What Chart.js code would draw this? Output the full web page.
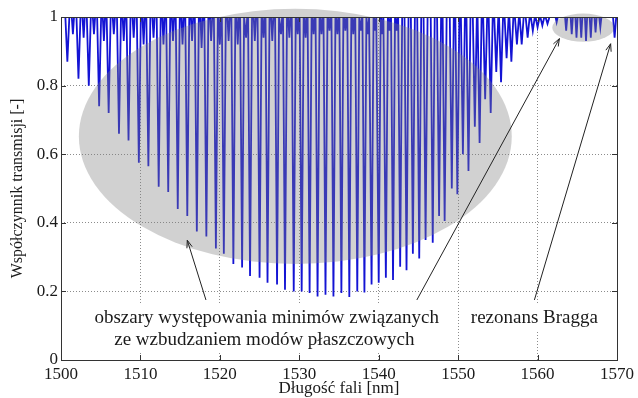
<!DOCTYPE html>
<html>
<head>
<meta charset="utf-8">
<script src="https://cdn.jsdelivr.net/npm/chart.js@4.4.0/dist/chart.umd.min.js"></script>
<style>
  body { margin: 0; background: #fff; }
  #wrap { width: 638px; height: 398px; }
</style>
</head>
<body>
<div id="wrap"><canvas id="myChart" width="638" height="398"></canvas></div>
<script>
  const xTicks = [1500, 1510, 1520, 1530, 1540, 1550, 1560, 1570];
  const yTicks = [0, 0.2, 0.4, 0.6, 0.8, 1];

  // main cladding-mode resonances (wavelength in nm, transmission minimum)
  const dipWl = [1500.8, 1502.2, 1503.5, 1504.8, 1506.0, 1507.3, 1508.5, 1509.8, 1511.0, 1512.3,
    1513.5, 1514.7, 1515.9, 1517.1, 1518.3, 1519.5, 1520.5, 1521.7, 1522.8, 1523.8,
    1525.0, 1526.0, 1527.2, 1528.2, 1529.3, 1530.3, 1531.3, 1532.3, 1533.3, 1534.3,
    1535.3, 1536.3, 1537.3, 1538.2, 1539.1, 1540.0, 1540.9, 1541.8, 1542.7, 1543.5,
    1544.3, 1545.1, 1545.9, 1546.8, 1547.6, 1548.3, 1549.2, 1549.9, 1550.6, 1551.3,
    1552.1, 1552.7, 1553.4, 1554.1, 1554.8, 1555.4, 1556.1, 1556.7, 1557.4, 1558.0,
    1558.75, 1559.4, 1560.0, 1560.6, 1561.25];
  const dipMin = [0.87, 0.82, 0.80, 0.74, 0.72, 0.66, 0.64, 0.575, 0.565, 0.505,
    0.49, 0.44, 0.42, 0.375, 0.36, 0.325, 0.31, 0.28, 0.27, 0.245,
    0.24, 0.225, 0.22, 0.205, 0.2, 0.2, 0.195, 0.185, 0.19, 0.185,
    0.195, 0.184, 0.2, 0.197, 0.22, 0.225, 0.24, 0.233, 0.272, 0.262,
    0.31, 0.296, 0.35, 0.342, 0.42, 0.405, 0.5, 0.483, 0.6, 0.551,
    0.68, 0.633, 0.76, 0.72, 0.84, 0.81, 0.88, 0.87, 0.92, 0.92,
    0.94, 0.96, 0.97, 0.975, 0.98];

  // weak resonances near the top of the spectrum
  const smallWl = [1501.5, 1502.85, 1504.15, 1505.4, 1506.65, 1507.9, 1509.15, 1510.4, 1511.65, 1512.9,
    1514.1, 1515.3, 1516.5, 1517.7, 1518.9, 1520.0, 1521.1, 1522.25, 1523.3, 1524.4,
    1525.5, 1526.6, 1527.7, 1528.75, 1529.8, 1530.8, 1531.8, 1532.8, 1533.8, 1534.8,
    1535.8, 1536.8, 1537.75, 1538.65, 1539.55, 1540.45, 1541.35, 1542.25,
    1562.4, 1563.6, 1564.3, 1564.9, 1565.5, 1566.1, 1566.7, 1567.3, 1567.9];
  const smallMin = [0.95, 0.94, 0.95, 0.93, 0.95, 0.93, 0.94, 0.92, 0.94, 0.92,
    0.93, 0.92, 0.93, 0.91, 0.93, 0.92, 0.93, 0.92, 0.94, 0.93,
    0.94, 0.93, 0.95, 0.94, 0.95, 0.94, 0.95, 0.95, 0.96, 0.95,
    0.96, 0.95, 0.96, 0.95, 0.96, 0.95, 0.96, 0.96,
    0.985, 0.96, 0.95, 0.94, 0.94, 0.93, 0.94, 0.955, 0.97];

  // Bragg resonance
  const braggWl = [1569.7];
  const braggMin = [0.94];

  const dips = [];
  dipWl.forEach((w, i) => dips.push({ w: w, m: dipMin[i], hw: 0.25 }));
  smallWl.forEach((w, i) => dips.push({ w: w, m: smallMin[i], hw: 0.14 }));
  braggWl.forEach((w, i) => dips.push({ w: w, m: braggMin[i], hw: 0.2 }));
  dips.sort((a, b) => a.w - b.w);

  const points = [{ x: 1500, y: 1 }];
  dips.forEach(d => {
    points.push({ x: d.w - d.hw, y: 1 }, { x: d.w, y: d.m }, { x: d.w + d.hw, y: 1 });
  });
  points.push({ x: 1570, y: 1 });

  // annotation shapes, in data units
  const ellipses = [
    { cx: 1529.5, cy: 0.652, rx: 27.25, ry: 0.372 },
    { cx: 1565.75, cy: 0.969, rx: 3.9, ry: 0.041 }
  ];
  const arrows = [
    { x0: 1518.25, y0: 0.175, x1: 1515.9, y1: 0.349 },
    { x0: 1544.8, y0: 0.175, x1: 1562.75, y1: 0.937 },
    { x0: 1559.6, y0: 0.175, x1: 1569.2, y1: 0.922 }
  ];

  const serif = '"Liberation Serif", "Times New Roman", serif';

  const annot = {
    id: 'annot',
    afterDatasetsDraw(chart) {
      const { ctx, chartArea: a, scales: { x, y } } = chart;
      ctx.save();

      // grey ellipses
      ctx.fillStyle = 'rgba(128,128,128,0.36)';
      ellipses.forEach(e => {
        const px = x.getPixelForValue(e.cx), py = y.getPixelForValue(e.cy);
        const rx = x.getPixelForValue(e.cx + e.rx) - px;
        const ry = py - y.getPixelForValue(e.cy + e.ry);
        ctx.beginPath();
        ctx.ellipse(px, py, rx, ry, 0, 0, Math.PI * 2);
        ctx.fill();
      });

      // frame
      ctx.strokeStyle = '#333';
      ctx.lineWidth = 1;
      ctx.strokeRect(Math.round(a.left) + 0.5, Math.round(a.top) + 0.5,
        Math.round(a.right - a.left), Math.round(a.bottom - a.top));

      // inward ticks on all sides
      ctx.beginPath();
      xTicks.forEach(v => {
        const px = Math.round(x.getPixelForValue(v)) + 0.5;
        ctx.moveTo(px, a.bottom); ctx.lineTo(px, a.bottom - 5);
        ctx.moveTo(px, a.top); ctx.lineTo(px, a.top + 5);
      });
      yTicks.forEach(v => {
        const py = Math.round(y.getPixelForValue(v)) + 0.5;
        ctx.moveTo(a.left, py); ctx.lineTo(a.left + 5, py);
        ctx.moveTo(a.right, py); ctx.lineTo(a.right - 5, py);
      });
      ctx.stroke();

      // white boxes behind the notes
      ctx.fillStyle = '#fff';
      ctx.fillRect(92, 303, 354, 49);
      ctx.fillRect(470, 304, 138, 27);

      // arrows
      ctx.strokeStyle = '#222';
      ctx.lineWidth = 1;
      arrows.forEach(ar => {
        const x0 = x.getPixelForValue(ar.x0), y0 = y.getPixelForValue(ar.y0);
        const x1 = x.getPixelForValue(ar.x1), y1 = y.getPixelForValue(ar.y1);
        const ang = Math.atan2(y1 - y0, x1 - x0);
        ctx.beginPath();
        ctx.moveTo(x0, y0); ctx.lineTo(x1, y1);
        ctx.moveTo(x1 - 8 * Math.cos(ang - 0.35), y1 - 8 * Math.sin(ang - 0.35));
        ctx.lineTo(x1, y1);
        ctx.lineTo(x1 - 8 * Math.cos(ang + 0.35), y1 - 8 * Math.sin(ang + 0.35));
        ctx.stroke();
      });

      // notes
      ctx.fillStyle = '#1a1a1a';
      ctx.font = '19px ' + serif;
      ctx.textAlign = 'center';
      ctx.textBaseline = 'middle';
      ctx.fillText('obszary występowania minimów związanych', x.getPixelForValue(1525.9), y.getPixelForValue(0.122));
      ctx.fillText('ze wzbudzaniem modów płaszczowych', x.getPixelForValue(1525.6), y.getPixelForValue(0.058));
      ctx.fillText('rezonans Bragga', x.getPixelForValue(1559.6), y.getPixelForValue(0.122));

      ctx.restore();
    }
  };

  const tickFont = { family: serif, size: 17 };

  const ctx = document.getElementById('myChart').getContext('2d');
  const myChart = new Chart(ctx, {
    type: 'line',
    data: {
      datasets: [{
        data: points,
        borderColor: '#1414d4',
        borderWidth: 1.8,
        pointRadius: 0,
        fill: false,
        tension: 0
      }]
    },
    options: {
      responsive: false,
      animation: false,
      layout: { padding: { top: 17, right: 17, left: 0, bottom: 0 } },
      plugins: { legend: { display: false }, tooltip: { enabled: false } },
      scales: {
        x: {
          type: 'linear',
          min: 1500,
          max: 1570,
          afterBuildTicks: s => { s.ticks = xTicks.map(v => ({ value: v })); },
          grid: { color: '#8c8c8c', lineWidth: 1, drawTicks: false },
          border: { display: false, dash: [1, 2] },
          ticks: { padding: 4, color: '#1a1a1a', font: tickFont, maxRotation: 0, autoSkip: false,
            callback: v => String(v) },
          title: { display: true, text: 'Długość fali [nm]', color: '#1a1a1a',
            font: { family: serif, size: 17 }, padding: { top: 0, bottom: -1 } },
          afterFit: s => { s.height = 38; }
        },
        y: {
          min: 0,
          max: 1,
          afterBuildTicks: s => { s.ticks = yTicks.map(v => ({ value: v })); },
          grid: { color: '#8c8c8c', lineWidth: 1, drawTicks: false },
          border: { display: false, dash: [1, 2] },
          ticks: { padding: 3, color: '#1a1a1a', font: tickFont, autoSkip: false,
            callback: v => String(+v.toFixed(1)) },
          title: { display: true, text: 'Współczynnik transmisji [-]', color: '#1a1a1a',
            font: { family: serif, size: 16 }, padding: { top: 8, bottom: 0 } },
          afterFit: s => { s.width = 61; }
        }
      }
    },
    plugins: [annot]
  });
</script>
</body>
</html>
